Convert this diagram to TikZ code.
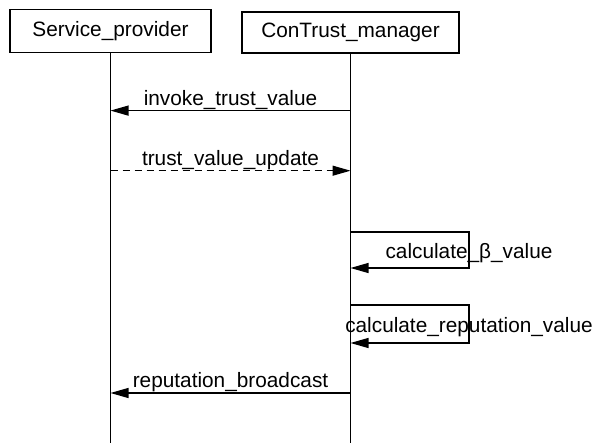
\documentclass[tikz,border=0pt]{standalone}
\usepackage{fontspec}
\setmainfont{Liberation Sans}
\usetikzlibrary{arrows.meta}
\def\msgfont{\fontsize{20.8}{24}\selectfont}
\def\loopx{469}
\tikzset{
  actor/.style={draw, line width=1.2pt, inner sep=0pt, font=\msgfont},
  lifeline/.style={line width=1.4pt},
  msg/.style={line width=1.2pt, -{Triangle[length=18pt,width=10pt]}},
  reply/.style={msg, dash pattern=on 7pt off 5pt},
  msglabel/.style={anchor=base, yshift=5pt, inner sep=0pt, font=\msgfont},
  looplabel/.style={anchor=center, yshift=-3pt, inner sep=0pt, font=\msgfont}
}
\begin{document}
\begin{tikzpicture}[x=1pt, y=-1pt]
\useasboundingbox (0,0) rectangle (592,443);

\node[actor, minimum width=201pt, minimum height=43pt] (sp) at (110.5,31) {Service\_provider};
\node[actor, minimum width=217pt, minimum height=41pt] (ctm) at (350.5,32.5) {ConTrust\_manager};

% lifelines
\foreach \who in {sp,ctm} {
  \coordinate (\who end) at (\who.south |- 0,443);
  \draw[lifeline] (\who.south) -- (\who end);
}

\coordinate (m1a) at (ctm.south |- 0,110.6);
\coordinate (m1b) at (sp.south |- 0,110.6);
\coordinate (m2a) at (sp.south |- 0,170.7);
\coordinate (m2b) at (ctm.south |- 0,170.7);
\coordinate (s1a) at (ctm.south |- 0,232);
\coordinate (s1b) at (ctm.south |- 0,268);
\coordinate (s2a) at (ctm.south |- 0,305);
\coordinate (s2b) at (ctm.south |- 0,343);
\coordinate (m5a) at (ctm.south |- 0,393);
\coordinate (m5b) at (sp.south |- 0,393);

\draw[msg] (m1a) -- node[msglabel] {invoke\_trust\_value} (m1b);
\draw[reply] (m2a) -- node[msglabel] {trust\_value\_update} (m2b);

% self calls
\draw[msg] (s1a) -- (s1a -| \loopx,0) -- node[looplabel] {calculate\_β\_value} (s1b -| \loopx,0) -- (s1b);
\draw[msg] (s2a) -- (s2a -| \loopx,0) -- node[looplabel] {calculate\_reputation\_value} (s2b -| \loopx,0) -- (s2b);

\draw[msg] (m5a) -- node[msglabel] {reputation\_broadcast} (m5b);
\end{tikzpicture}
\end{document}
